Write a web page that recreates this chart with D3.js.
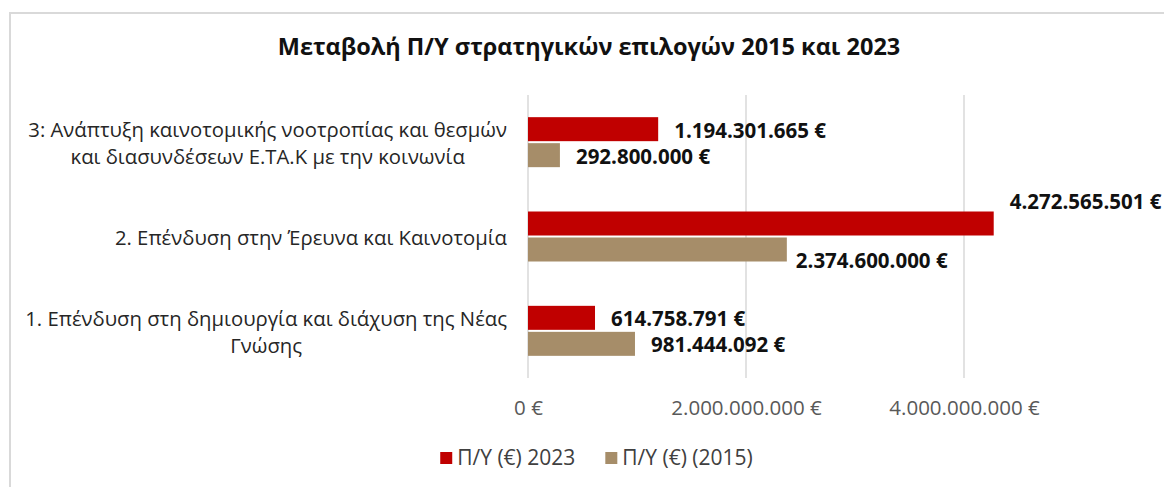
<!DOCTYPE html>
<html>
<head>
<meta charset="utf-8">
<script src="https://cdn.jsdelivr.net/npm/d3@7"></script>
<style>
  html, body { margin: 0; padding: 0; background: #ffffff; }
  svg { display: block; }
  text { font-family: "Open Sans", "Noto Sans", sans-serif; }
</style>
</head>
<body>
<svg id="chart" width="1164" height="487"></svg>
<script>
// ---- data ----
const chartTitle = "Μεταβολή Π/Υ στρατηγικών επιλογών 2015 και 2023";
const categories = [
  "3: Ανάπτυξη καινοτομικής νοοτροπίας και θεσμών\nκαι διασυνδέσεων Ε.ΤΑ.Κ με την κοινωνία",
  "2. Επένδυση στην Έρευνα και Καινοτομία",
  "1. Επένδυση στη δημιουργία και διάχυση της Νέας\nΓνώσης"
];
const seriesNames = ["Π/Υ (€) 2023", "Π/Υ (€) (2015)"];
const values2023 = [1194301665, 4272565501, 614758791];
const values2015 = [292800000, 2374600000, 981444092];
const xTicks = [0, 2000000000, 4000000000];

// ---- styles ----
const colors = ["#C00000", "#A68D69"];
const W = 1164, H = 487;
const plot = { left: 528, right: 964, top: 95, bottom: 378 };

const locale = d3.formatLocale({ decimal: ",", thousands: ".", grouping: [3], currency: ["", " €"] });
const fmt = v => locale.format(",")(v) + " €";

const svg = d3.select("#chart");

// background + chart border
svg.append("rect").attr("x", 0).attr("y", 0).attr("width", W).attr("height", H).attr("fill", "#fff");
svg.append("rect").attr("x", 10).attr("y", 13).attr("width", W + 20).attr("height", H + 20)
  .attr("fill", "#fff").attr("stroke", "#d9d9d9").attr("stroke-width", 2);

// title
svg.append("text").attr("x", 589).attr("y", 55).attr("text-anchor", "middle")
  .attr("font-weight", 700).attr("font-size", 23.5).attr("fill", "#111")
  .text(chartTitle);

const x = d3.scaleLinear().domain([0, 4000000000]).range([plot.left, plot.right]);
const y = d3.scaleBand().domain(categories).range([plot.top, plot.bottom]).paddingInner(0).paddingOuter(0);

// gridlines
svg.append("g").selectAll("line").data(xTicks).join("line")
  .attr("x1", d => x(d)).attr("x2", d => x(d))
  .attr("y1", plot.top).attr("y2", plot.bottom)
  .attr("stroke", "#d9d9d9").attr("stroke-width", 1.5);

// x axis tick labels
const xAxis = d3.axisBottom(x).tickValues(xTicks).tickSize(0).tickPadding(0).tickFormat(fmt);
const gx = svg.append("g").attr("transform", `translate(0,${plot.bottom + 22})`).call(xAxis);
gx.select(".domain").remove();
gx.selectAll("text").attr("font-size", 20.5).attr("fill", "#595959")
  .attr("font-family", "'Open Sans', sans-serif").attr("dy", "0.35em").attr("y", 8);

// bars
const barH = 24, gap = 2;
const series = [values2023, values2015];
series.forEach((vals, si) => {
  svg.append("g").selectAll("rect").data(vals).join("rect")
    .attr("x", x(0))
    .attr("y", (d, i) => y.bandwidth() / 2 + y(categories[i]) + (si === 0 ? -(barH + gap / 2) : gap / 2))
    .attr("width", d => x(d) - x(0))
    .attr("height", barH)
    .attr("fill", colors[si]);
});

// value labels (with the manual nudges of the original for the middle category)
function labelNudge(si, i) {
  if (i === 1 && si === 0) return { dx: 16, dy: -22 };
  if (i === 1 && si === 1) return { dx: 9, dy: 11 };
  return { dx: 16, dy: 1 };
}
series.forEach((vals, si) => {
  svg.append("g").selectAll("text").data(vals).join("text")
    .attr("x", (d, i) => x(d) + labelNudge(si, i).dx)
    .attr("y", (d, i) => y(categories[i]) + y.bandwidth() / 2 + (si === 0 ? -(barH / 2 + gap / 2) : (barH / 2 + gap / 2)) + labelNudge(si, i).dy)
    .attr("dy", "0.36em")
    .attr("font-size", 20.5).attr("font-weight", 700).attr("fill", "#111")
    .text(d => fmt(d));
});

// category labels: block right-aligned, lines centred within the block
const labelRight = 507, lineH = 27;
categories.forEach(c => {
  const lines = c.split("\n");
  const cy = y(c) + y.bandwidth() / 2 + 1.5;
  const t = svg.append("text").attr("font-size", 20.3).attr("fill", "#262626").attr("text-anchor", "middle");
  lines.forEach((ln, li) => {
    t.append("tspan").attr("y", cy + (li - (lines.length - 1) / 2) * lineH).attr("dy", "0.35em").text(ln);
  });
  let maxW = 0;
  t.selectAll("tspan").each(function () { maxW = Math.max(maxW, this.getComputedTextLength()); });
  t.selectAll("tspan").attr("x", labelRight - maxW / 2);
});

// legend
const legendY = 458, sq = 12, legendGap = 30;
const lg = svg.append("g");
let cx = 0;
seriesNames.forEach((name, si) => {
  const g = lg.append("g").attr("transform", `translate(${cx},0)`);
  g.append("rect").attr("x", 0).attr("y", legendY - sq / 2).attr("width", sq).attr("height", sq).attr("fill", colors[si]);
  const t = g.append("text").attr("x", sq + 5).attr("y", legendY).attr("dy", "0.35em")
    .attr("font-size", 21).attr("fill", "#404040").text(name);
  cx += sq + 5 + t.node().getComputedTextLength() + legendGap;
});
const totalW = cx - legendGap;
lg.attr("transform", `translate(${596.5 - totalW / 2},0)`);
</script>
</body>
</html>
